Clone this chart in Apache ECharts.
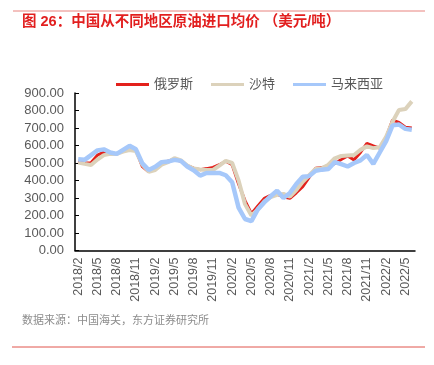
<!DOCTYPE html>
<html><head><meta charset="utf-8">
<script src="https://cdn.jsdelivr.net/npm/echarts@6/dist/echarts.min.js"></script>
<style>html,body{margin:0;padding:0;background:#fff}#c{width:434px;height:365px}</style>
</head><body><div id="c"></div>
<script>
const categories = ["2018/2","2018/3","2018/4","2018/5","2018/6","2018/7","2018/8","2018/9","2018/10","2018/11","2018/12",
"2019/1","2019/2","2019/3","2019/4","2019/5","2019/6","2019/7","2019/8","2019/9","2019/10","2019/11","2019/12",
"2020/1","2020/2","2020/3","2020/4","2020/5","2020/6","2020/7","2020/8","2020/9","2020/10","2020/11","2020/12",
"2021/1","2021/2","2021/3","2021/4","2021/5","2021/6","2021/7","2021/8","2021/9","2021/10","2021/11","2021/12",
"2022/1","2022/2","2022/3","2022/4","2022/5","2022/6"];
const russia = [512,500,502,545,562,560,552,570,586,575,479,450,470,495,510,522,510,485,470,462,468,475,490,510,490,380,285,210,255,298,315,322,305,298,330,365,418,470,474,478,497,520,540,518,560,612,598,585,645,745,732,705,700];
const saudi = [502,495,489,520,545,552,552,565,574,568,490,450,460,490,505,528,515,485,468,463,460,460,485,512,500,400,265,200,235,280,305,318,323,308,345,393,430,466,470,490,527,540,543,546,575,595,585,590,650,736,803,808,852];
const malaysia = [522,518,545,572,578,560,552,575,598,578,498,460,478,505,508,518,512,480,458,428,443,443,443,430,390,245,180,168,235,275,310,342,300,329,380,422,425,455,462,466,505,493,480,500,515,546,495,560,625,715,720,695,690];
const seriesNames = ["俄罗斯","沙特","马来西亚"];
const yTicks = {min:0, max:900, interval:100};
const titleText = "图 26：中国从不同地区原油进口均价 （美元/吨）";
const sourceText = "数据来源：中国海关，东方证券研究所";

const FONT = '"Liberation Sans","Noto Sans CJK SC",sans-serif';
const chart = echarts.init(document.getElementById('c'), null, {renderer:'canvas'});
chart.setOption({
  animation:false,
  backgroundColor:'#fff',
  graphic:[
    {type:'line', shape:{x1:13,y1:11,x2:425,y2:11}, style:{stroke:'#E8837E', lineWidth:1}},
    {type:'text', left:22, top:15, style:{text:titleText, fill:'#E21F1F', font:'bold 14.5px '+FONT}},
    {type:'text', left:22, top:315, style:{text:sourceText, fill:'#8C8C8C', font:'11px '+FONT}},
    {type:'line', shape:{x1:12,y1:347,x2:425,y2:347}, style:{stroke:'#E0554C', lineWidth:1}}
  ],
  legend:{
    left:111, top:73, itemWidth:33, itemHeight:3, itemGap:18, icon:'rect',
    textStyle:{color:'#595959', fontSize:13, fontFamily:FONT},
    data:seriesNames
  },
  grid:{left:75, right:19, top:93, bottom:114.5, containLabel:false},
  xAxis:{
    type:'category', data:categories, boundaryGap:true,
    axisLine:{lineStyle:{color:'#000', width:1.5}},
    axisTick:{inside:true, interval:2, length:4, lineStyle:{color:'#000'}},
    axisLabel:{interval:2, rotate:90, color:'#595959', fontSize:12.5, fontFamily:FONT, margin:7}
  },
  yAxis:{
    type:'value', min:yTicks.min, max:yTicks.max, interval:yTicks.interval,
    splitLine:{show:false},
    axisLine:{show:true, lineStyle:{color:'#000', width:1.5}},
    axisTick:{show:true, inside:true, length:4, lineStyle:{color:'#000'}},
    axisLabel:{color:'#595959', fontSize:13, fontFamily:FONT, margin:11, formatter:v=>v.toFixed(2)}
  },
  series:[
    {name:seriesNames[0], type:'line', data:russia, symbol:'none', z:2, lineStyle:{color:'#E3211C', width:3}, itemStyle:{color:'#E3211C'}},
    {name:seriesNames[1], type:'line', data:saudi, symbol:'none', z:3, lineStyle:{color:'#DCD2BB', width:4}, itemStyle:{color:'#DCD2BB'}},
    {name:seriesNames[2], type:'line', data:malaysia, symbol:'none', z:4, lineStyle:{color:'#A6C8FA', width:4.5}, itemStyle:{color:'#A6C8FA'}}
  ]
});
</script></body></html>
